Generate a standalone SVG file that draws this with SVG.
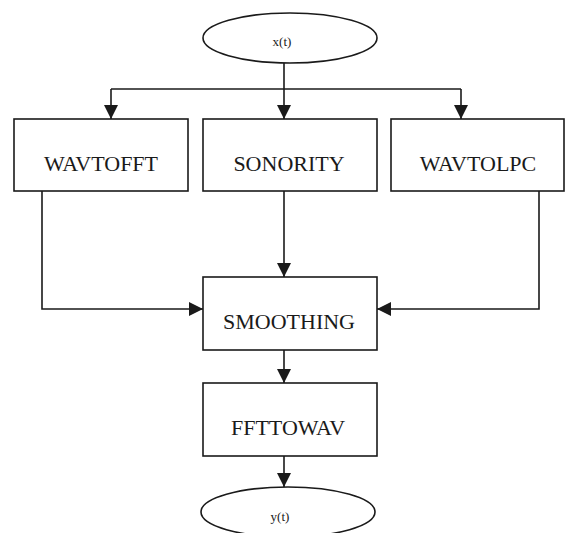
<svg xmlns="http://www.w3.org/2000/svg" width="565" height="533" viewBox="0 0 565 533">
  <defs>
    <style>
      .node rect, .node ellipse { fill: #ffffff; stroke: #1a1a1a; stroke-width: 1.6; }
      .lbl { font-family: "Liberation Serif", "Times New Roman", serif; font-size: 22px; fill: #1a1a1a; text-anchor: middle; }
      .sm { font-family: "Liberation Serif", "Times New Roman", serif; font-size: 13px; fill: #1a1a1a; text-anchor: middle; }
      .edge { fill: none; stroke: #1a1a1a; stroke-width: 1.6; }
    </style>
    <marker id="arr" markerUnits="userSpaceOnUse" markerWidth="14" markerHeight="14" viewBox="0 0 14 14" refX="14" refY="7" orient="auto">
      <path d="M0,0 L14,7 L0,14 z" fill="#1a1a1a"/>
    </marker>
  </defs>
  <rect width="565" height="533" fill="#ffffff"/>

  <g id="connectors">
    <path class="edge" d="M284,63 L284,89"/>
    <path class="edge" d="M111,89 L461,89"/>
    <path class="edge" d="M111,89 L111,119" marker-end="url(#arr)"/>
    <path class="edge" d="M284,89 L284,119" marker-end="url(#arr)"/>
    <path class="edge" d="M461,89 L461,119" marker-end="url(#arr)"/>
    <path class="edge" d="M42,191 L42,309 L203,309" marker-end="url(#arr)"/>
    <path class="edge" d="M284,191 L284,277" marker-end="url(#arr)"/>
    <path class="edge" d="M539,191 L539,309 L377,309" marker-end="url(#arr)"/>
    <path class="edge" d="M284,350 L284,383" marker-end="url(#arr)"/>
    <path class="edge" d="M284,456 L284,487" marker-end="url(#arr)"/>
  </g>

  <g id="xt" class="node">
    <ellipse cx="290" cy="38" rx="87" ry="25"/>
    <text class="sm" x="282" y="46">x(t)</text>
  </g>
  <g id="wavtofft" class="node">
    <rect x="14" y="119" width="174" height="72"/>
    <text class="lbl" x="101" y="171">WAVTOFFT</text>
  </g>
  <g id="sonority" class="node">
    <rect x="203" y="119" width="174" height="72"/>
    <text class="lbl" x="289" y="171">SONORITY</text>
  </g>
  <g id="wavtolpc" class="node">
    <rect x="391" y="119" width="173" height="72"/>
    <text class="lbl" x="478" y="171">WAVTOLPC</text>
  </g>
  <g id="smoothing" class="node">
    <rect x="203" y="277" width="174" height="73"/>
    <text class="lbl" x="289" y="329">SMOOTHING</text>
  </g>
  <g id="ffttowav" class="node">
    <rect x="203" y="383" width="174" height="73"/>
    <text class="lbl" x="288" y="435">FFTTOWAV</text>
  </g>
  <g id="yt" class="node">
    <ellipse cx="288" cy="512" rx="87" ry="25"/>
    <text class="sm" x="280" y="521">y(t)</text>
  </g>
</svg>
